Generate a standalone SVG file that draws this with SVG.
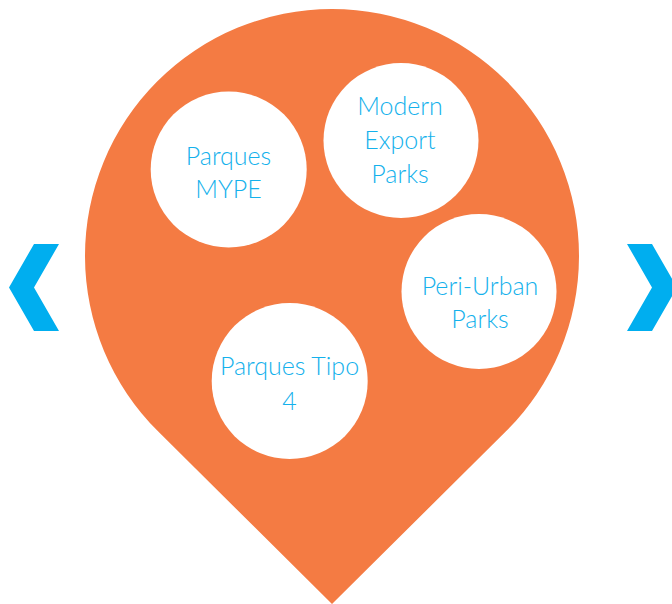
<svg xmlns="http://www.w3.org/2000/svg" width="672" height="604" viewBox="0 0 672 604">
<style>
.pin{fill:#F47B43}
.bub{fill:#FFFFFF}
.lbl{font-family:Lato,"Open Sans","Liberation Sans",sans-serif;font-weight:300;font-size:25px;fill:#14B1EC;text-anchor:middle}
.chev{fill:#00AEEF}
</style>
<rect width="672" height="604" fill="#FFFFFF"/>
<g id="pin">
<path class="pin" d="M332,604 L158,431.3 A247,247 0 1 1 506,431.3 Z"/>
</g>
<g id="nav-left"><polygon class="chev" points="34,244 59,244 34,287.5 59,331 34,331 9,287.5"/></g>
<g id="nav-right"><polygon class="chev" points="627,244 652,244 677,287.5 652,331 627,331 652,287.5"/></g>
<g id="node-mype">
<circle class="bub" cx="228.7" cy="169.5" r="78"/>
<text class="lbl" x="228.5" y="165">Parques</text>
<text class="lbl" x="228.5" y="198">MYPE</text>
</g>
<g id="node-export">
<circle class="bub" cx="401" cy="140.5" r="77.5"/>
<text class="lbl" x="400" y="115">Modern</text>
<text class="lbl" x="400" y="149">Export</text>
<text class="lbl" x="400" y="183">Parks</text>
</g>
<g id="node-periurban">
<circle class="bub" cx="479" cy="291.5" r="77.5"/>
<text class="lbl" x="480" y="295">Peri-Urban</text>
<text class="lbl" x="480" y="328">Parks</text>
</g>
<g id="node-tipo4">
<circle class="bub" cx="289.7" cy="381" r="78"/>
<text class="lbl" x="289.5" y="375">Parques Tipo</text>
<text class="lbl" x="289.5" y="410">4</text>
</g>
<g id="connectors"></g>
</svg>
